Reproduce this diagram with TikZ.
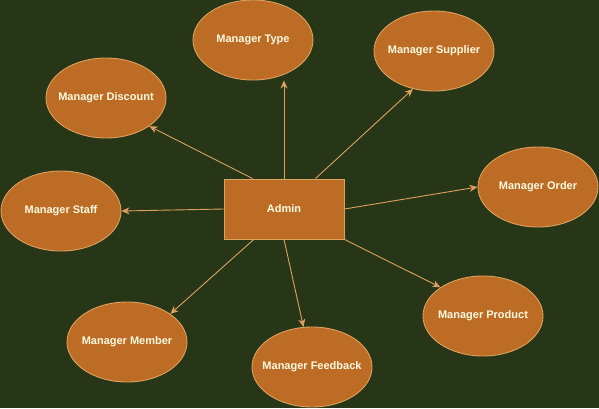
\documentclass[tikz,border=0pt]{standalone}
\usepackage{fontspec}
\setmainfont{Liberation Sans}
\usetikzlibrary{arrows.meta,calc,shapes.geometric}
\definecolor{bgc}{HTML}{283618}
\definecolor{fillc}{HTML}{BC6C25}
\definecolor{linec}{HTML}{DDA15E}
\definecolor{txtc}{HTML}{FEFAE0}
\newcommand{\zw}[1]{\makebox[0pt]{#1}}
\tikzset{
  ell/.style={ellipse, draw=linec, fill=fillc, line width=0.9pt, minimum width=120pt, minimum height=80pt, inner sep=0pt, text=txtc, font=\fontsize{11pt}{13pt}\selectfont\bfseries},
  rectbox/.style={rectangle, draw=linec, fill=fillc, line width=0.9pt, minimum width=120pt, minimum height=60pt, inner sep=0pt, text=txtc, font=\fontsize{11pt}{13pt}\selectfont\bfseries},
  conn/.style={draw=linec, line width=0.9pt, -{Stealth[length=8pt,width=7pt,inset=2.5pt]}}
}
\begin{document}
\begin{tikzpicture}[x=1pt,y=-1pt]
\useasboundingbox (0,0) rectangle (599,408);
\fill[bgc] (0,0) rectangle (599,408);
\node[rectbox] (adm) at (284,209) {Admin};
\node[ell] (type) at (253,40) {\zw{Manager Type}};
\node[ell] (disc) at (106,98) {\zw{Manager Discount}};
\node[ell] (supp) at (434,51) {\zw{Manager Supplier}};
\node[ell] (order) at (538,187) {\zw{Manager Order}};
\node[ell] (staff) at (61,211) {\zw{Manager Staff}};
\node[ell] (memb) at (127,342) {\zw{Manager Member}};
\node[ell] (feed) at (312,367) {\zw{Manager Feedback}};
\node[ell] (prod) at (483,316) {\zw{Manager Product}};
\coordinate (a1) at ($(adm.north west)!0.24!(adm.north east)$);
\coordinate (a2) at ($(adm.north west)!0.76!(adm.north east)$);
\coordinate (a3) at ($(adm.south west)!0.25!(adm.south east)$);
\draw[conn] (adm.north) -- (adm.north |- type.south);
\draw[conn] (a1) -- (disc.-33);
\draw[conn] (a2) -- (supp.-119);
\draw[conn] (adm.east) -- (order.west);
\draw[conn] (adm.south east) -- (prod.146);
\draw[conn] (adm.south) -- (feed.102);
\draw[conn] (a3) -- (memb.33);
\draw[conn] (adm.west) -- (staff.east);
\end{tikzpicture}
\end{document}
